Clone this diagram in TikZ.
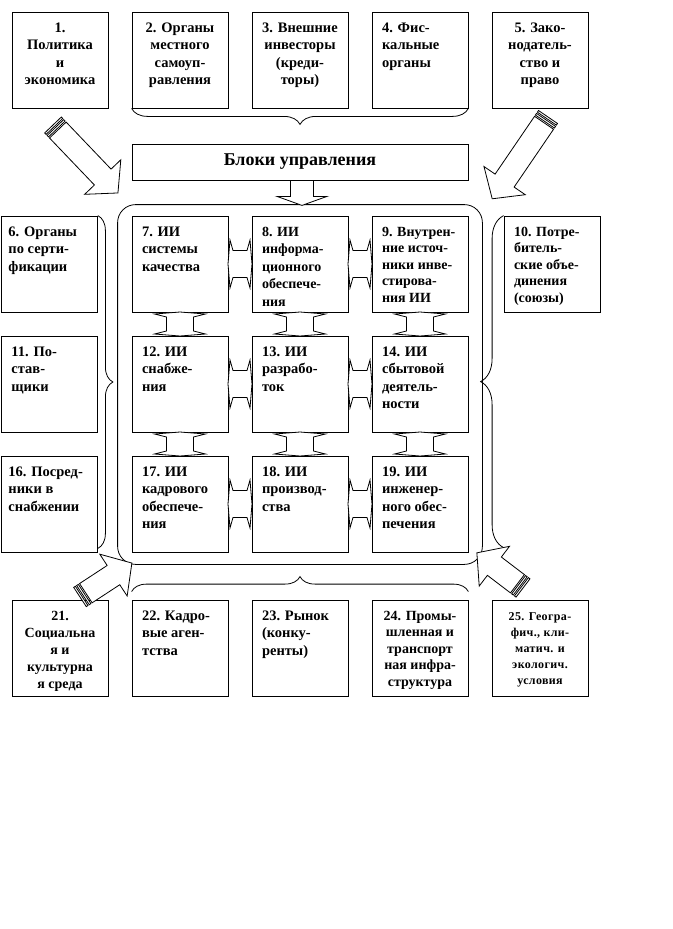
\documentclass[tikz,border=0pt]{standalone}
\usepackage{fontspec}
\setmainfont{Liberation Serif}
\usepackage{tikz}
\usetikzlibrary{calc,decorations.pathreplacing}
\tikzset{
  blk/.style={draw, line width=0.8pt, minimum width=96pt, minimum height=96pt, inner sep=0pt},
  brc/.style={decorate, decoration={brace, amplitude=#1}, line width=0.8pt},
  fat/.style={draw, line width=0.8pt, fill=white, line join=miter},
}
% text of a block, set from its top edge
\newcommand{\bxt}[2][\raggedright\leftskip=8pt\relax]{%
  \parbox[c][96pt][t]{92pt}{\fontsize{14.5}{17.5}\selectfont\bfseries #1\rule{0pt}{20pt}#2}}
% double block arrow between two cells
\newcommand{\dblarr}[3]{%
  \begin{scope}[shift={#1}, rotate=#2]
    \draw[fat] (-12pt,0pt) -- (-10pt,#3) -- (-7pt,13.5pt) -- (7pt,13.5pt) -- (10pt,#3) -- (12pt,0pt)
      -- (10pt,-#3) -- (7pt,-13.5pt) -- (-7pt,-13.5pt) -- (-10pt,-#3) -- cycle;
  \end{scope}}
% striped block arrow: tail, angle, length
\newcommand{\fatarr}[3]{%
  \begin{scope}[shift={#1}, rotate=#2]
    \draw[fat] (0pt,-11.5pt) rectangle (2pt,11.5pt);
    \draw[fat] (3.5pt,-11.5pt) rectangle (5.5pt,11.5pt);
    \draw[fat] (7pt,-11.5pt) -- ({#3-22pt},-11.5pt) -- ({#3-22pt},-25pt) -- (#3,0pt)
      -- ({#3-22pt},25pt) -- ({#3-22pt},11.5pt) -- (7pt,11.5pt) -- cycle;
  \end{scope}}

\begin{document}
\begin{tikzpicture}[x=1pt,y=-1pt]
  \useasboundingbox (0,0) rectangle (672,929);

  % outer factors, top row
  \node[blk] (pol)  at (60,60)  {\bxt[\centering]{1.\\Политика\\и\\экономика}};
  \node[blk] (mest) at (180,60) {\bxt[\centering]{2. Органы\\местного\\самоуп-\\равления}};
  \node[blk] (inv)  at (300,60) {\bxt[\centering]{3. Внешние\\инвесторы\\(креди-\\торы)}};
  \node[blk] (fisk) at (420,60) {\bxt{4. Фис-\\кальные\\органы}};
  \node[blk] (zak)  at (540,60) {\bxt[\centering]{5. Зако-\\нодатель-\\ство и\\право}};

  \node[draw, line width=0.8pt, minimum width=336pt, minimum height=36pt,
        font=\fontsize{18}{20}\selectfont\bfseries] (upr) at (300,162) {Блоки управления};

  % side columns
  \node[blk] (sert) at (49.5,264) {\bxt[\raggedright\leftskip=5pt\relax]{6. Органы\\по серти-\\фикации}};
  \node[blk] (post) at (49.5,384) {\bxt{11. По-\\став-\\щики}};
  \node[blk] (posr) at (49.5,504) {\bxt[\raggedright\leftskip=5pt\relax]{16. Посред-\\ники в\\снабжении}};
  \node[blk] (potr) at (552,264)  {\bxt[\raggedright\leftskip=8pt\fontsize{14}{16.5}\selectfont]{10. Потре-\\битель-\\ские объе-\\динения\\(союзы)}};

  % inner grid
  \node[blk] (kach)   at (180,264) {\bxt{7. ИИ\\системы\\качества}};
  \node[blk] (info)   at (300,264) {\bxt[\raggedright\leftskip=8pt\fontsize{14}{17.5}\selectfont]{8. ИИ\\информа-\\ционного\\обеспече-\\ния}};
  \node[blk] (vnutr)  at (420,264) {\bxt[\raggedright\leftskip=8pt\fontsize{14}{16.5}\selectfont]{9. Внутрен-\\ние источ-\\ники инве-\\стирова-\\ния ИИ}};
  \node[blk] (snab)   at (180,384) {\bxt{12. ИИ\\снабже-\\ния}};
  \node[blk] (razr)   at (300,384) {\bxt{13. ИИ\\разрабо-\\ток}};
  \node[blk] (sbyt)   at (420,384) {\bxt{14. ИИ\\сбытовой\\деятель-\\ности}};
  \node[blk] (kadr)   at (180,504) {\bxt{17. ИИ\\кадрового\\обеспече-\\ния}};
  \node[blk] (proizv) at (300,504) {\bxt{18. ИИ\\производ-\\ства}};
  \node[blk] (inzh)   at (420,504) {\bxt{19. ИИ\\инженер-\\ного обес-\\печения}};

  % outer factors, bottom row
  \node[blk] (soc)   at (60,648)  {\bxt[\centering\fontsize{14}{17}\selectfont]{21.\\Социальна\\я и\\культурна\\я среда}};
  \node[blk] (agent) at (180,648) {\bxt{22. Кадро-\\вые аген-\\тства}};
  \node[blk] (rynok) at (300,648) {\bxt{23. Рынок\\(конку-\\ренты)}};
  \node[blk] (infra) at (420,648) {\bxt[\centering\fontsize{14}{16.5}\selectfont]{24. Промы-\\шленная и\\транспорт\\ная инфра-\\структура}};
  \node[blk] (geo)   at (540,648) {\bxt[\centering\fontsize{12}{16}\selectfont\addfontfeature{LetterSpace=3}]{25. Геогра-\\фич., кли-\\матич. и\\экологич.\\условия}};

  % frame round the grid and braces
  \draw[line width=0.8pt, rounded corners=18pt] ($(kach.north west)+(-14,-11)$) rectangle ($(inzh.south east)+(14,12)$);
  \draw[brc=16pt] (fisk.south east) -- (mest.south west);
  \draw[brc=15pt] ($(agent.north west)+(0,-8)$) -- ($(infra.north east)+(0,-8)$);
  \draw[brc=15pt] (sert.north east) -- ($(posr.south east)+(0,-4)$);
  \draw[brc=23pt] ($(potr.north west)+(0,332)$) -- (potr.north west);

  % links between cells
  \foreach \a/\b in {kach/info,info/vnutr,snab/razr,razr/sbyt,kadr/proizv,proizv/inzh}
    \dblarr{($(\a.east)!0.5!(\b.west)$)}{0}{24pt};
  \foreach \a/\b in {kach/snab,info/razr,vnutr/sbyt,snab/kadr,razr/proizv,sbyt/inzh}
    \dblarr{($(\a.south)!0.5!(\b.north)$)}{90}{25.5pt};

  % block arrows
  \draw[fat] ($(upr.south)+(-9.5,0)$) -- ++(0,16) -- ++(-13.5,0) -- ($(upr.south)+(2,25)$)
    -- ++(25,-9) -- ++(-13.5,0) -- ++(0,-16) -- cycle;
  \fatarr{(53,125)}{-46.3}{94pt}
  \fatarr{(548,117)}{-124.3}{99pt}
  \fatarr{(80,597)}{33.2}{62pt}
  \fatarr{(523,588)}{142.7}{58pt}
\end{tikzpicture}
\end{document}
